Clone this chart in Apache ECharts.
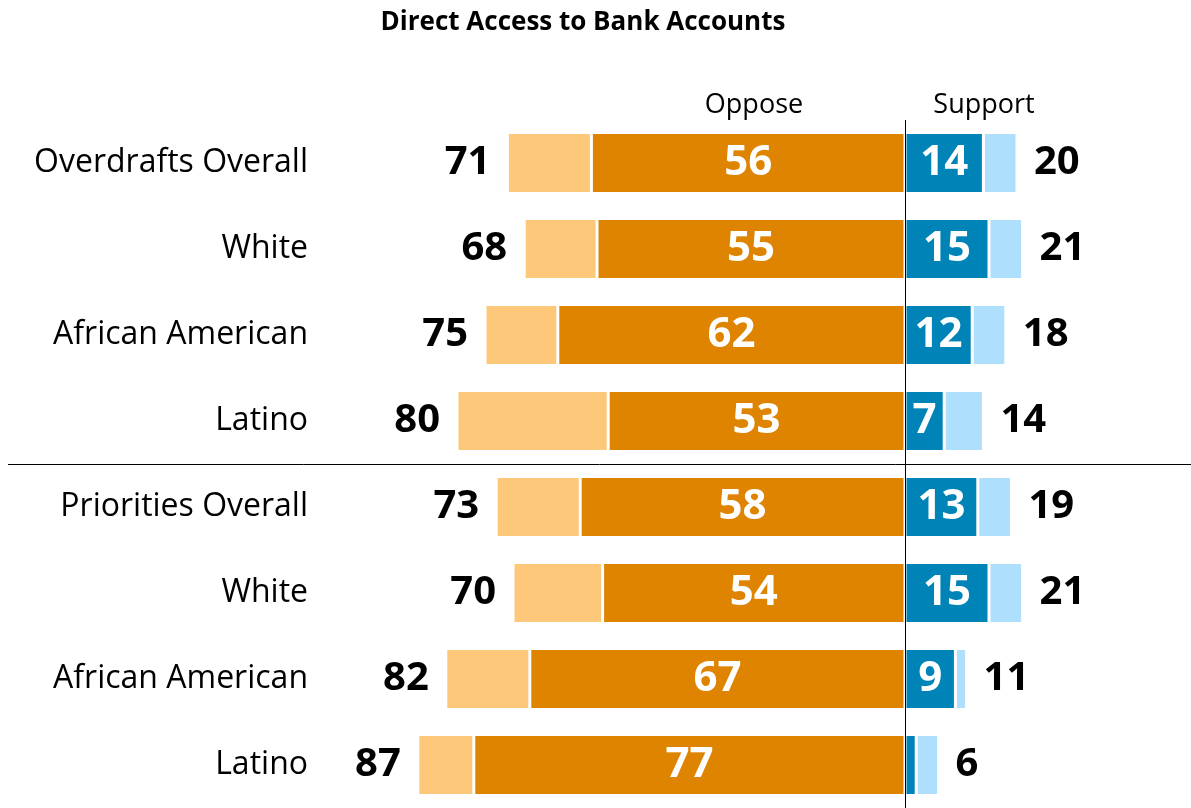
<!DOCTYPE html>
<html>
<head>
<meta charset="utf-8">
<title>Direct Access to Bank Accounts</title>
<script src="https://cdn.jsdelivr.net/npm/echarts@6/dist/echarts.min.js"></script>
<style>
  html, body { margin: 0; padding: 0; background: #fff; }
  #chart { width: 1191px; height: 808px; }
</style>
</head>
<body>
<div id="chart"></div>
<script>
// Row labels, top to bottom
const categories = ['Overdrafts Overall', 'White', 'African American', 'Latino',
                    'Priorities Overall', 'White', 'African American', 'Latino'];
// Oppose: strongly oppose and total oppose (%)
const opposeStrong = [56, 55, 62, 53, 58, 54, 67, 77];
const opposeTotal  = [71, 68, 75, 80, 73, 70, 82, 87];
// Support: strongly support and total support (%)
const supportStrong = [14, 15, 12, 7, 13, 15, 9, 2];
const supportTotal  = [20, 21, 18, 14, 19, 21, 11, 6];

const FONT = '"Open Sans", Lato, sans-serif';
const C_DARK_OR = '#DF8400';
const C_LIGHT_OR = '#FEC87B';
const C_DARK_BL = '#0083B6';
const C_LIGHT_BL = '#AEDFFD';

const barBase = {
  type: 'bar',
  stack: 'all',
  barWidth: 61,
  itemStyle: { borderColor: '#fff', borderWidth: 1.5 }
};
const outerLabel = { fontFamily: FONT, fontWeight: 'bold', fontSize: 40 };
const innerLabel = { fontFamily: FONT, fontWeight: 'bold', fontSize: 42 };

const chart = echarts.init(document.getElementById('chart'), null, { renderer: 'canvas' });

const option = {
  animation: false,
  title: [
    { text: 'Direct Access to Bank Accounts', left: 578, top: 5, textAlign: 'center',
      textStyle: { fontFamily: FONT, fontWeight: 'bold', fontSize: 26, color: '#000' } },
    { text: 'Oppose', left: 749, top: 87, textAlign: 'center',
      textStyle: { fontFamily: FONT, fontWeight: 'normal', fontSize: 27, color: '#000' } },
    { text: 'Support', left: 979, top: 87, textAlign: 'center',
      textStyle: { fontFamily: FONT, fontWeight: 'normal', fontSize: 27, color: '#000' } }
  ],
  grid: { left: 345, top: 120, width: 840, height: 688, containLabel: false },
  xAxis: {
    type: 'value', min: -100, max: 50, show: false
  },
  yAxis: {
    type: 'category',
    inverse: true,
    data: categories.map((_, i) => String(i)),
    axisLine: { show: false },
    axisTick: { show: false },
    axisLabel: {
      formatter: v => categories[+v],
      margin: 37,
      fontFamily: FONT, fontSize: 32, color: '#000'
    }
  },
  series: [
    Object.assign({}, barBase, {
      name: 'Strongly oppose',
      data: opposeStrong.map(v => -v),
      itemStyle: Object.assign({}, barBase.itemStyle, { color: C_DARK_OR }),
      label: Object.assign({ show: true, position: 'inside', color: '#fff',
        formatter: p => opposeStrong[p.dataIndex] }, innerLabel),
      markLine: {
        silent: true, symbol: 'none',
        label: { show: false },
        lineStyle: { color: '#000', width: 1, type: 'solid' },
        data: [{ xAxis: 0 }]
      }
    }),
    Object.assign({}, barBase, {
      name: 'Somewhat oppose',
      data: opposeTotal.map((t, i) => -(t - opposeStrong[i])),
      itemStyle: Object.assign({}, barBase.itemStyle, { color: C_LIGHT_OR }),
      label: Object.assign({ show: true, position: 'left', distance: 17, color: '#000',
        formatter: p => opposeTotal[p.dataIndex] }, outerLabel)
    }),
    Object.assign({}, barBase, {
      name: 'Strongly support',
      data: supportStrong.slice(),
      itemStyle: Object.assign({}, barBase.itemStyle, { color: C_DARK_BL }),
      label: Object.assign({ show: true, position: 'inside', color: '#fff',
        formatter: p => supportStrong[p.dataIndex] >= 5 ? supportStrong[p.dataIndex] : '' }, innerLabel)
    }),
    Object.assign({}, barBase, {
      name: 'Somewhat support',
      data: supportTotal.map((t, i) => t - supportStrong[i]),
      itemStyle: Object.assign({}, barBase.itemStyle, { color: C_LIGHT_BL }),
      label: Object.assign({ show: true, position: 'right', distance: 17, color: '#000',
        formatter: p => supportTotal[p.dataIndex] }, outerLabel)
    })
  ]
};

chart.setOption(option);

// Divider between the Overdrafts and Priorities groups, placed halfway between rows
const yA = chart.convertToPixel({ yAxisIndex: 0 }, '3');
const yB = chart.convertToPixel({ yAxisIndex: 0 }, '4');
const yMid = Math.round((yA + yB) / 2) + 0.5;
chart.setOption({
  graphic: [{
    type: 'line', silent: true,
    shape: { x1: 8, y1: yMid, x2: 1191, y2: yMid },
    style: { stroke: '#000', lineWidth: 1 }
  }]
});
</script>
</body>
</html>
